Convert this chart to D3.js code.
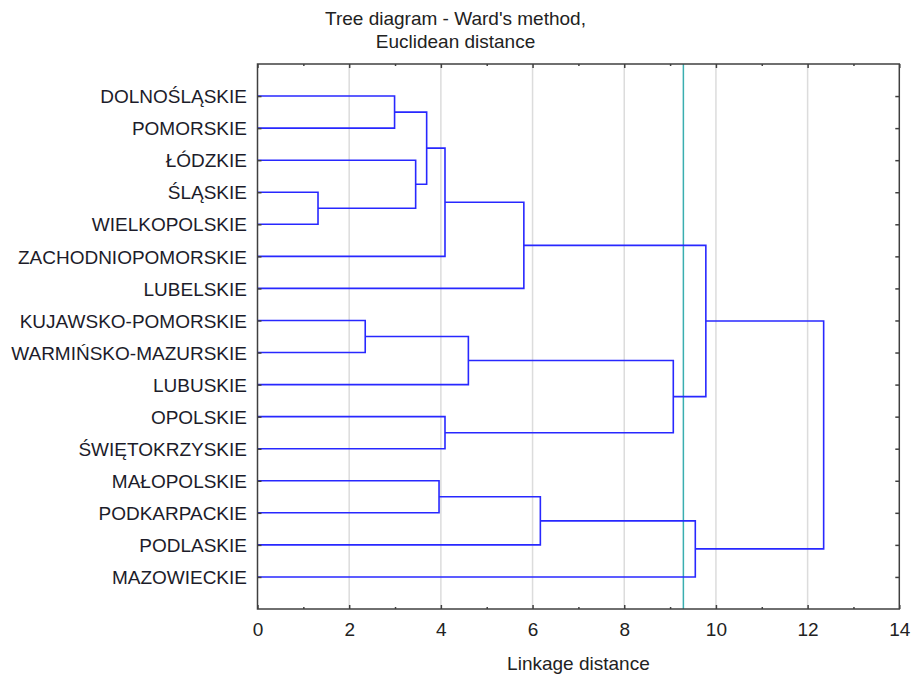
<!DOCTYPE html>
<html>
<head>
<meta charset="utf-8">
<script src="https://cdn.jsdelivr.net/npm/d3@7"></script>
<style>
  body { margin: 0; background: #fff; }
  svg { display: block; font-family: Arial, "Liberation Sans", sans-serif; }
</style>
</head>
<body>
<svg id="chart" width="911" height="677"></svg>
<script>
// Leaves in top-to-bottom order
const leaves = [
  "DOLNOŚLĄSKIE", "POMORSKIE", "ŁÓDZKIE", "ŚLĄSKIE", "WIELKOPOLSKIE",
  "ZACHODNIOPOMORSKIE", "LUBELSKIE", "KUJAWSKO-POMORSKIE", "WARMIŃSKO-MAZURSKIE",
  "LUBUSKIE", "OPOLSKIE", "ŚWIĘTOKRZYSKIE", "MAŁOPOLSKIE", "PODKARPACKIE",
  "PODLASKIE", "MAZOWIECKIE"
];
// Linkage: node 16+i joins mergeA[i] and mergeB[i] at mergeHeight[i]
const mergeA      = [3,    7,    0,    2,    18,   12,   20,   10,   17,   22,   21,   24,   26,   25,   29];
const mergeB      = [4,    8,    1,    16,   19,   13,   5,    11,   9,    6,    14,   23,   15,   27,   28];
const mergeHeight = [1.32, 2.35, 2.99, 3.45, 3.69, 3.96, 4.09, 4.09, 4.60, 5.81, 6.17, 9.07, 9.55, 9.78, 12.35];
const cutDistance = 9.29;
const xTicks = [0, 2, 4, 6, 8, 10, 12, 14];
const xMinorTicks = [1, 3, 5, 7, 9, 11, 13];
const title = ["Tree diagram - Ward's method,", "Euclidean distance"];
const xLabel = "Linkage distance";

const svg = d3.select("#chart");
const L = 257.5, R = 899.3, T = 64, B = 609;
const FS = 19;

const x = d3.scaleLinear().domain([0, 14]).range([L, R]);
const y = d3.scalePoint().domain(leaves).range([T, B]).padding(1);

// grid
svg.append("g").selectAll("line")
  .data(xTicks.filter(d => d > 0 && d < 14))
  .join("line")
  .attr("x1", d => x(d)).attr("x2", d => x(d))
  .attr("y1", T).attr("y2", B)
  .attr("stroke", "#dcdcdc").attr("stroke-width", 1.5);

// cut line
svg.append("line")
  .attr("x1", x(cutDistance)).attr("x2", x(cutDistance))
  .attr("y1", T).attr("y2", B)
  .attr("stroke", "#3aaeb0").attr("stroke-width", 1.5);

// dendrogram
const nodeY = leaves.map(d => y(d));
const nodeH = leaves.map(() => 0);
const paths = [];
mergeA.forEach((a, i) => {
  const b = mergeB[i], h = mergeHeight[i];
  const ya = nodeY[a], yb = nodeY[b];
  paths.push(`M${x(nodeH[a])},${ya}H${x(h)}V${yb}H${x(nodeH[b])}`);
  nodeY.push((ya + yb) / 2);
  nodeH.push(h);
});
svg.append("g").selectAll("path")
  .data(paths).join("path")
  .attr("d", d => d)
  .attr("fill", "none")
  .attr("stroke", "#2828ff")
  .attr("stroke-width", 1.6);

// axes
const frameColor = "#404040";
const gx = svg.append("g").attr("transform", `translate(0,${B})`)
  .call(d3.axisBottom(x).tickValues(xTicks).tickFormat(d3.format("d"))
    .tickSizeInner(-4).tickSizeOuter(0).tickPadding(14));
const gxMinor = svg.append("g").attr("transform", `translate(0,${B})`)
  .call(d3.axisBottom(x).tickValues(xMinorTicks).tickFormat("")
    .tickSizeInner(-2).tickSizeOuter(0));
const gxTop = svg.append("g").attr("transform", `translate(0,${T})`)
  .call(d3.axisTop(x).tickValues(xTicks).tickFormat("")
    .tickSizeInner(-4).tickSizeOuter(0));
const gxTopMinor = svg.append("g").attr("transform", `translate(0,${T})`)
  .call(d3.axisTop(x).tickValues(xMinorTicks).tickFormat("")
    .tickSizeInner(-2).tickSizeOuter(0));
const gy = svg.append("g").attr("transform", `translate(${L},0)`)
  .call(d3.axisLeft(y).tickSizeInner(-4).tickSizeOuter(0).tickPadding(10.5));
const gyR = svg.append("g").attr("transform", `translate(${R},0)`)
  .call(d3.axisRight(y).tickFormat("").tickSizeInner(-4).tickSizeOuter(0));

[gx, gxMinor, gxTop, gxTopMinor, gy, gyR].forEach(g => {
  g.select(".domain").remove();
  g.selectAll(".tick line").attr("stroke", frameColor).attr("stroke-width", 1.5);
});
gx.selectAll(".tick text").attr("font-size", FS).attr("fill", "#222");
gy.selectAll(".tick text").attr("font-size", FS).attr("fill", "#1c1c2a").attr("dy", "0.35em");

// frame
svg.append("rect")
  .attr("x", L).attr("y", T).attr("width", R - L).attr("height", B - T)
  .attr("fill", "none").attr("stroke", frameColor).attr("stroke-width", 1.5);

// titles
svg.append("text").attr("x", 455.5).attr("y", 25)
  .attr("text-anchor", "middle").attr("font-size", FS).attr("fill", "#222")
  .text(title[0]);
svg.append("text").attr("x", 455.5).attr("y", 48)
  .attr("text-anchor", "middle").attr("font-size", FS).attr("fill", "#222")
  .text(title[1]);
svg.append("text").attr("x", (L + R) / 2).attr("y", 670)
  .attr("text-anchor", "middle").attr("font-size", FS).attr("fill", "#222")
  .text(xLabel);
</script>
</body>
</html>
